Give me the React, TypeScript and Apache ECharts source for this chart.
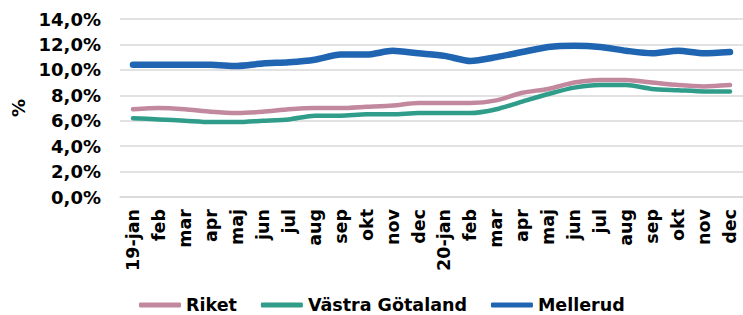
import React, { useEffect, useRef } from "react";
import * as echarts from "echarts";

const categories = [
  "19-jan", "feb", "mar", "apr", "maj", "jun", "jul", "aug", "sep", "okt", "nov", "dec",
  "20-jan", "feb", "mar", "apr", "maj", "jun", "jul", "aug", "sep", "okt", "nov", "dec",
];

const riket = [
  6.9, 7.0, 6.9, 6.7, 6.6, 6.7, 6.9, 7.0, 7.0, 7.1, 7.2, 7.4,
  7.4, 7.4, 7.6, 8.2, 8.5, 9.0, 9.2, 9.2, 9.0, 8.8, 8.7, 8.8,
];

const vastraGotaland = [
  6.2, 6.1, 6.0, 5.9, 5.9, 6.0, 6.1, 6.4, 6.4, 6.5, 6.5, 6.6,
  6.6, 6.6, 6.9, 7.5, 8.1, 8.6, 8.8, 8.8, 8.5, 8.4, 8.3, 8.3,
];

const mellerud = [
  10.4, 10.4, 10.4, 10.4, 10.3, 10.5, 10.6, 10.8, 11.2, 11.2, 11.5, 11.3,
  11.1, 10.7, 11.0, 11.4, 11.8, 11.9, 11.8, 11.5, 11.3, 11.5, 11.3, 11.4,
];

const seriesNames = ["Riket", "Västra Götaland", "Mellerud"];
const FONT = "'DejaVu Sans', Verdana, sans-serif";

export default function App() {
  const ref = useRef<HTMLDivElement>(null);

  useEffect(() => {
    if (!ref.current) return;
    const chart = echarts.init(ref.current, null, { renderer: "svg" });
    chart.setOption({
      animation: false,
      backgroundColor: "#ffffff",
      grid: { left: 120, right: -3, top: 19, bottom: 118, containLabel: false },
      legend: {
        left: 134,
        top: 291,
        itemGap: 24,
        itemWidth: 42,
        itemHeight: 5,
        icon: "roundRect",
        textStyle: { fontFamily: FONT, fontWeight: "bold", fontSize: 17.5, color: "#000" },
        data: seriesNames,
      },
      xAxis: {
        type: "category",
        data: categories,
        boundaryGap: true,
        axisLine: { show: true, lineStyle: { color: "#d9d9d9", width: 1.5 } },
        axisTick: { show: false },
        axisLabel: {
          rotate: 90,
          interval: 0,
          margin: 12,
          fontFamily: FONT,
          fontWeight: "bold",
          fontSize: 17.5,
          color: "#000",
        },
      },
      yAxis: {
        type: "value",
        min: 0,
        max: 14,
        interval: 2,
        name: "%",
        nameLocation: "middle",
        nameRotate: 90,
        nameGap: 93,
        nameTextStyle: { fontFamily: FONT, fontWeight: "bold", fontSize: 18, color: "#000" },
        axisLine: { show: false },
        axisTick: { show: false },
        splitLine: { lineStyle: { color: "#d9d9d9", width: 1.5 } },
        axisLabel: {
          margin: 19,
          fontFamily: FONT,
          fontWeight: "bold",
          fontSize: 18,
          color: "#000",
          formatter: (v: number) => v.toFixed(1).replace(".", ",") + "%",
        },
      },
      series: [
        {
          name: seriesNames[0],
          type: "line",
          data: riket,
          symbol: "none",
          smooth: 0.25,
          color: "#c1889e",
          lineStyle: { width: 4.5, color: "#c1889e", cap: "round", join: "round" },
        },
        {
          name: seriesNames[1],
          type: "line",
          data: vastraGotaland,
          symbol: "none",
          smooth: 0.25,
          color: "#2f9d8a",
          lineStyle: { width: 4.5, color: "#2f9d8a", cap: "round", join: "round" },
        },
        {
          name: seriesNames[2],
          type: "line",
          data: mellerud,
          symbol: "none",
          smooth: 0.25,
          color: "#1f65b1",
          lineStyle: { width: 6.5, color: "#1f65b1", cap: "round", join: "round" },
        },
      ],
    });
    return () => chart.dispose();
  }, []);

  return (
    <div
      ref={ref}
      style={{ position: "fixed", left: 0, top: 0, width: 743, height: 315 }}
    />
  );
}
